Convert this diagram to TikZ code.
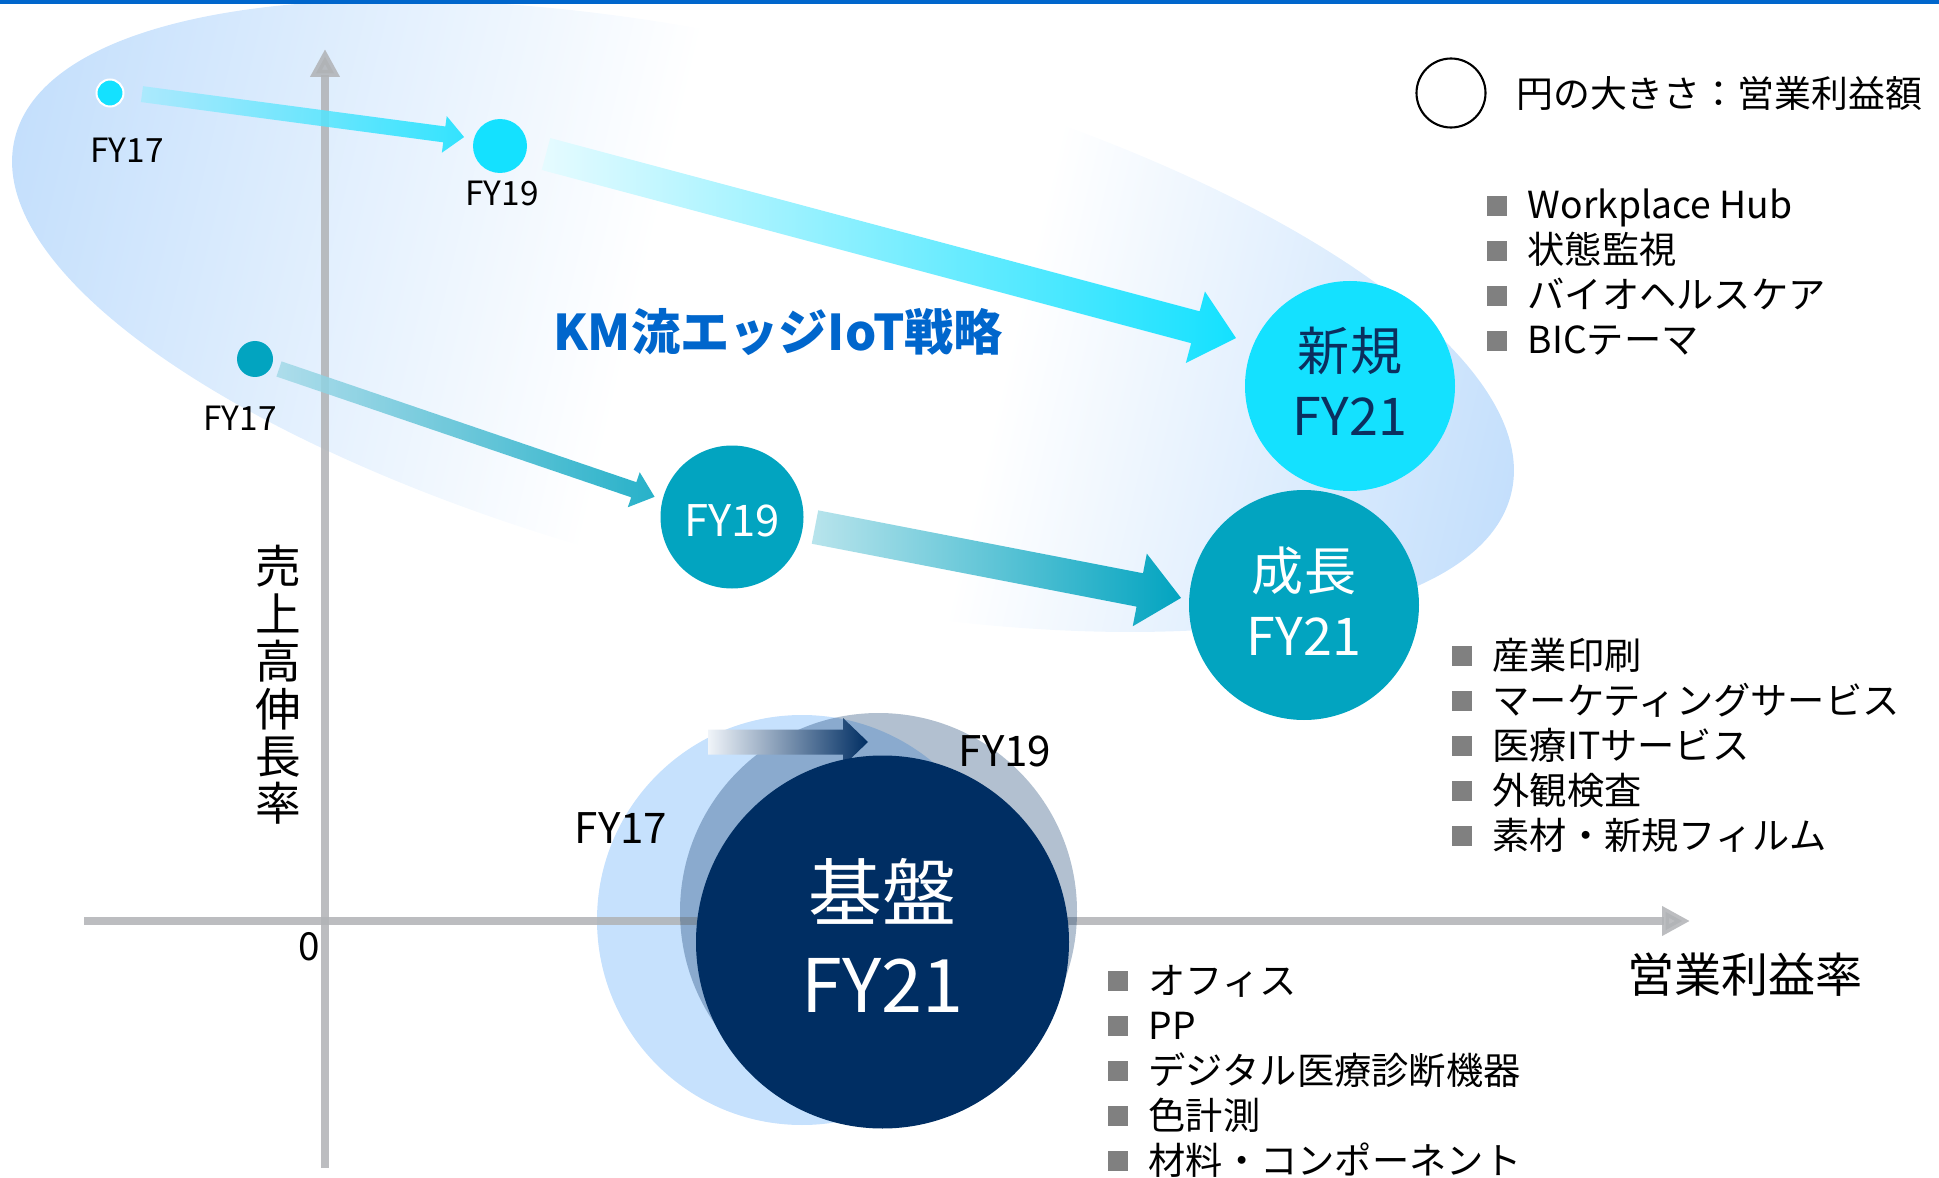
\documentclass[tikz,border=0pt]{standalone}
\usepackage{fontspec}
\setmainfont{Noto Sans CJK JP}
\usetikzlibrary{positioning, calc, arrows.meta}

\definecolor{topblue}{HTML}{0066CC}
\definecolor{kmblue}{HTML}{0066CC}
\definecolor{ellblue}{HTML}{C4DFFC}
\definecolor{cyanc}{HTML}{14E1FF}
\definecolor{cyanpale}{HTML}{A6EAFD}
\definecolor{cyanwhite}{HTML}{E6FBFF}
\definecolor{tealc}{HTML}{02A4C0}
\definecolor{tealpale}{HTML}{A5DAE8}
\definecolor{tealpale2}{HTML}{B8E4EC}
\definecolor{navyc}{HTML}{002E63}
\definecolor{navypale}{HTML}{F0F4F9}
\definecolor{navytext}{HTML}{0B2F5E}
\definecolor{basicblue}{HTML}{C6E1FD}
\definecolor{axisgray}{HTML}{B0B2B5}
\definecolor{sqgray}{HTML}{808080}

\pgfdeclarehorizontalshading{ellfade}{100bp}{color(0bp)=(ellblue); color(25bp)=(ellblue); color(46bp)=(white); color(58bp)=(white); color(75bp)=(ellblue); color(100bp)=(ellblue)}

\tikzstyle{dot} = [circle, inner sep=0pt]
\tikzstyle{bubble} = [circle, inner sep=0pt, align=center, font=\fontsize{14.8}{18.5}\selectfont]
\tikzstyle{fylbl} = [inner sep=0pt, font=\fontsize{9.5}{11}\selectfont]
\tikzstyle{bigfy} = [inner sep=0pt, font=\fontsize{12}{14}\selectfont]
\tikzstyle{itemlist} = [anchor=west, align=left, inner sep=0pt, font=\fontsize{10.6}{12.8}\selectfont]
\tikzstyle{axisline} = [line width=0.08cm, draw=axisgray, opacity=0.85, -{Triangle[width=0.28cm,length=0.28cm]}]

\newcommand{\sqb}{\textcolor{sqgray}{\rule[0.03cm]{0.2cm}{0.2cm}}\hspace{0.21cm}}
\newcommand{\lowpad}[1]{\rule[-#1]{0pt}{#1}}
% block arrow: shading, from, to, half shaft, half head, head length
\newcommand{\blockarrow}[6]{%
  \coordinate (arT) at (#2);
  \coordinate (arH) at (#3);
  \coordinate (arB) at ($(arH)!#6!(arT)$);
  \shade[#1] ($(arT)!#4!90:(arH)$) -- ($(arB)!#4!-90:(arT)$) -- ($(arB)!#5!-90:(arT)$) -- (arH)
    -- ($(arB)!#5!90:(arT)$) -- ($(arB)!#4!90:(arT)$) -- ($(arT)!#4!-90:(arH)$) -- cycle;
}

\begin{document}
\begin{tikzpicture}
\useasboundingbox (0,0) rectangle (19.39,-11.78);

% faded ellipse behind the IoT strategy
\begin{scope}[transform canvas={shift={(7.63,-3.16)}, rotate=-13.3}]
\shade[shading=ellfade] (0,0) ellipse (7.69 and 2.69);
\end{scope}
\fill[topblue] (0,0) rectangle (19.39,-0.04);

\node (b17) [dot, fill=basicblue, minimum size=4.10cm] at (8.02,-9.20) {};

% axes
\coordinate (yb) at (3.25,-11.68);
\coordinate (yt) at (3.25,-0.49);
\coordinate (xl) at (0.84,-9.21);
\coordinate (xr) at (16.90,-9.21);
\draw [axisline] (yb) -- (yt);
\draw [axisline] (xl) -- (xr);
\node (zero) [inner sep=0pt, font=\fontsize{11}{13}\selectfont] at (3.09,-9.47) {0};
\node (ylab) [inner sep=0pt, align=center, font=\fontsize{13}{13.5}\selectfont] at (2.78,-6.85) {売\\上\\高\\伸\\長\\率};
\node (xlab) [inner sep=0pt, font=\fontsize{13.4}{15}\selectfont] at (17.45,-9.75) {営業利益率};

% new and growth
\node (n17) [dot, fill=cyanc, draw=white, line width=0.02cm, minimum size=0.27cm] at (1.10,-0.93) {};
\node (n19) [dot, fill=cyanc, minimum size=0.54cm] at (5.00,-1.46) {};
\node (t17) [dot, fill=tealc, minimum size=0.36cm] at (2.55,-3.59) {};
\node (t19) [bubble, fill=tealc, text=white, minimum size=1.43cm, font=\fontsize{12.4}{14}\selectfont] at (7.32,-5.17) {\rule{0pt}{11pt}FY19};
\node (shinki) [bubble, fill=cyanc, text=navytext, minimum size=2.10cm] at (13.50,-3.86) {新規\\FY21\lowpad{2.8pt}};
\node (seicho) [bubble, fill=tealc, text=white, minimum size=2.30cm] at (13.04,-6.05) {成長\\FY21\lowpad{2pt}};
\node (l17) [fylbl, below of=n17, node distance=0.57cm, xshift=0.17cm] {FY17};
\node (l19) [fylbl, below of=n19, node distance=0.47cm, xshift=0.02cm] {FY19};
\node (lt17) [fylbl, below of=t17, node distance=0.59cm, xshift=-0.15cm] {FY17};
\node (km) [inner sep=0pt, text=kmblue, font=\bfseries\fontsize{14}{16}\selectfont] at (7.78,-3.32) {KM流エッジIoT戦略};

\blockarrow{left color=cyanpale, right color=cyanc, fill opacity=0.85}{$(n17)+(-2:0.32)$}{$(n19)+(166:0.37)$}{0.08cm}{0.185cm}{0.20cm}
\blockarrow{left color=cyanwhite, right color=cyanc}{$(n19)+(-9.9:0.467)$}{$(shinki)+(157.2:1.237)$}{0.165cm}{0.37cm}{0.42cm}
\blockarrow{left color=tealpale, right color=tealc, fill opacity=0.85}{$(t17)+(-22.6:0.26)$}{$(t19)+(165.4:0.80)$}{0.08cm}{0.185cm}{0.22cm}
\blockarrow{left color=tealpale2, right color=tealc}{$(t19)+(-6.9:0.836)$}{$(seicho)+(176.7:1.232)$}{0.17cm}{0.37cm}{0.42cm}

% base business
\node (b19) [dot, fill=navyc, fill opacity=0.3, minimum size=3.97cm] at (8.785,-9.115) {};
\coordinate (bas) at (7.08,-7.42);
\coordinate (bae) at (8.68,-7.42);
\blockarrow{left color=navypale, right color=navyc}{bas}{bae}{0.125cm}{0.24cm}{0.25cm}
\node (b21) [bubble, fill=navyc, text=white, minimum size=3.73cm, font=\fontsize{21}{26.2}\selectfont] at (8.825,-9.42) {基盤\\FY21\lowpad{4pt}};
\node (bl17) [bigfy] at (6.21,-8.28) {FY17};
\node (bl19) [bigfy] at (10.05,-7.51) {FY19};

% legend and lists
\node (lgc) [dot, draw=black, line width=0.6pt, minimum size=0.69cm] at (14.51,-0.93) {};
\node (lgt) [right=0.29cm of lgc, inner sep=0pt, font=\fontsize{10.5}{12}\selectfont] {円の大きさ：営業利益額};
\node (newlist) [itemlist] at (14.86,-2.725) {\sqb Workplace Hub\\\sqb 状態監視\\\sqb バイオヘルスケア\\\sqb BICテーマ};
\node (growlist) [itemlist] at (14.51,-7.45) {\sqb 産業印刷\\\sqb マーケティングサービス\\\sqb 医療ITサービス\\\sqb 外観検査\\\sqb 素材・新規フィルム};
\node (baselist) [itemlist] at (11.07,-10.71) {\sqb オフィス\\\sqb PP\\\sqb デジタル医療診断機器\\\sqb 色計測\\\sqb 材料・コンポーネント};
\end{tikzpicture}
\end{document}
